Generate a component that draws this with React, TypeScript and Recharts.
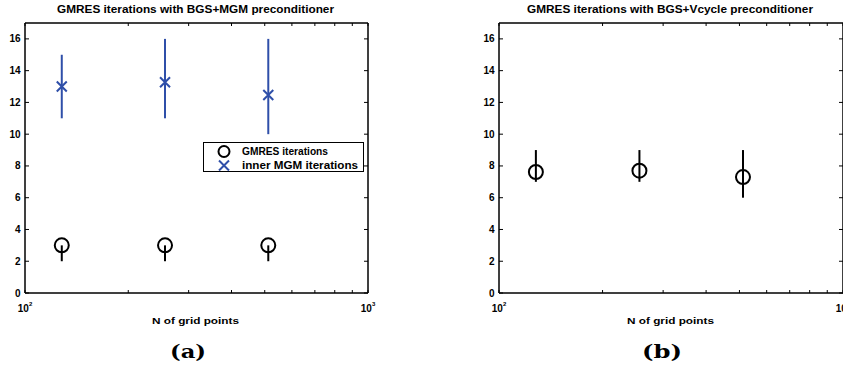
import React from 'react';
import { ScatterChart, Scatter, XAxis, YAxis, ErrorBar, Legend, ReferenceArea } from 'recharts';

// N of grid points (log axis)
const gridPoints = [128, 256, 512];

// (a) BGS+MGM preconditioner
const mgmGmresIters = [3, 3, 3];
const mgmGmresLow = [2, 2, 2];
const mgmGmresHigh = [3, 3, 3];
const mgmInnerIters = [13, 13.27, 12.47];
const mgmInnerLow = [11, 11, 10];
const mgmInnerHigh = [15, 16, 16];

// (b) BGS+Vcycle preconditioner
const vcycleGmresIters = [7.62, 7.7, 7.3];
const vcycleGmresLow = [7, 7, 6];
const vcycleGmresHigh = [9, 9, 9];

const yTicks = [0, 2, 4, 6, 8, 10, 12, 14, 16];
const xTicks = [100, 200, 300, 400, 500, 600, 700, 800, 900, 1000];

const FONT = '"Liberation Sans", Arial, Helvetica, sans-serif';
const BLUE = '#2f4fa9';
const GMRES_NAME = 'GMRES iterations';
const INNER_NAME = 'inner MGM iterations';

const toRows = (vals: number[], low: number[], high: number[]) =>
  gridPoints.map((n, i) => ({ n, v: vals[i], err: [vals[i] - low[i], high[i] - vals[i]] }));

const mgmGmresRows = toRows(mgmGmresIters, mgmGmresLow, mgmGmresHigh);
const mgmInnerRows = toRows(mgmInnerIters, mgmInnerLow, mgmInnerHigh);
const vcycleRows = toRows(vcycleGmresIters, vcycleGmresLow, vcycleGmresHigh);

const Ring = (p: any) => (
  <circle cx={p.cx} cy={p.cy} r={p.r ?? 7} fill="none" stroke="#000" strokeWidth={2} />
);

const Cross = (p: any) => (
  <path
    d={`M${p.cx - 5},${p.cy - 5}L${p.cx + 5},${p.cy + 5}M${p.cx - 5},${p.cy + 5}L${p.cx + 5},${p.cy - 5}`}
    stroke={BLUE}
    strokeWidth={2}
    fill="none"
  />
);

const Nothing = () => <g />;

const PowTick = (p: any) => {
  const lg = Math.log10(p.payload.value);
  const e = Math.round(lg);
  if (Math.abs(lg - e) > 1e-6) return <g />;
  return (
    <text x={p.x} y={p.y + 19} textAnchor="middle" fontSize={10} fontWeight="bold" fontFamily={FONT} fill="#000">
      10<tspan dy={-6} fontSize={6}>{e}</tspan>
    </text>
  );
};

const NumTick = (p: any) => (
  <text x={p.x} y={p.y + 3.5} textAnchor="end" fontSize={10} fontWeight="bold" fontFamily={FONT} fill="#000">
    {p.payload.value}
  </text>
);

const legendText: Record<string, number> = { [GMRES_NAME]: 86, [INNER_NAME]: 116 };

const LegendBox = ({ payload }: any) => (
  <svg width={161} height={30} style={{ display: 'block' }}>
    <rect x={0.5} y={0.5} width={160} height={29} fill="#fff" stroke="#000" />
    {(payload || []).map((entry: any, i: number) => {
      const cy = 9.5 + i * 14;
      return (
        <g key={i}>
          {entry.value === INNER_NAME ? <Cross cx={21} cy={cy} /> : <Ring cx={21} cy={cy} r={5.5} />}
          <text
            x={39}
            y={cy + 3.5}
            fontSize={10}
            fontWeight="bold"
            fontFamily={FONT}
            textLength={legendText[entry.value]}
            lengthAdjust="spacingAndGlyphs"
          >
            {entry.value}
          </text>
        </g>
      );
    })}
  </svg>
);

// box axes with inward ticks on all four sides, as in matlab
const frame = (rows: any[]) => [
  <XAxis
    key="xb"
    xAxisId="b"
    dataKey="n"
    type="number"
    scale="log"
    domain={[100, 1000]}
    ticks={xTicks}
    allowDataOverflow
    height={30}
    tickSize={-3}
    tickMargin={3}
    tick={<PowTick />}
    stroke="#000"
    interval={0}
  />,
  <XAxis
    key="xt"
    xAxisId="t"
    dataKey="n"
    orientation="top"
    type="number"
    scale="log"
    domain={[100, 1000]}
    ticks={xTicks}
    allowDataOverflow
    height={1}
    tickSize={-3}
    tick={<Nothing />}
    stroke="#000"
    interval={0}
  />,
  <YAxis
    key="yl"
    yAxisId="l"
    dataKey="v"
    type="number"
    domain={[0, 17]}
    ticks={yTicks}
    allowDataOverflow
    width={20}
    tickSize={-4}
    tickMargin={8.5}
    tick={<NumTick />}
    stroke="#000"
    interval={0}
  />,
  <YAxis
    key="yr"
    yAxisId="r"
    dataKey="v"
    orientation="right"
    type="number"
    domain={[0, 17]}
    ticks={yTicks}
    allowDataOverflow
    width={1}
    tickSize={-4}
    tick={<Nothing />}
    stroke="#000"
    interval={0}
  />,
  <ReferenceArea
    key="box"
    xAxisId="b"
    yAxisId="l"
    x1={100}
    x2={1000}
    y1={0}
    y2={17}
    fill="none"
    fillOpacity={0}
    stroke="#000"
    strokeWidth={1}
    ifOverflow="visible"
  />,
  // invisible series so the top/right axes have something to scale
  <Scatter
    key="frame"
    data={rows}
    xAxisId="t"
    yAxisId="r"
    shape={<Nothing />}
    legendType="none"
    isAnimationActive={false}
  />,
];

const label = (x: number, y: number, text: string, len: number, size: number, family = FONT) => (
  <text
    x={x}
    y={y}
    textAnchor="middle"
    fontSize={size}
    fontWeight="bold"
    fontFamily={family}
    textLength={len}
    lengthAdjust="spacingAndGlyphs"
    fill="#000"
  >
    {text}
  </text>
);

export default function App() {
  return (
    <div style={{ position: 'absolute', left: 0, top: 0, width: 843, height: 372, background: '#fff', overflow: 'hidden' }}>
      <div style={{ position: 'absolute', left: 0, top: 0 }}>
        <ScatterChart width={421} height={330} margin={{ top: 22, right: 52, bottom: 7, left: 5 }}>
          {frame(mgmGmresRows)}
          <Legend
            layout="vertical"
            align="center"
            verticalAlign="middle"
            wrapperStyle={{ left: 203, top: 142, width: 161, height: 30 }}
            content={<LegendBox />}
          />
          <Scatter
            name={GMRES_NAME}
            data={mgmGmresRows}
            xAxisId="b"
            yAxisId="l"
            shape={<Ring />}
            fill="#000"
            isAnimationActive={false}
          >
            <ErrorBar dataKey="err" direction="y" width={0} stroke="#000" strokeWidth={2} isAnimationActive={false} />
          </Scatter>
          <Scatter
            name={INNER_NAME}
            data={mgmInnerRows}
            xAxisId="b"
            yAxisId="l"
            shape={<Cross />}
            fill={BLUE}
            isAnimationActive={false}
          >
            <ErrorBar dataKey="err" direction="y" width={0} stroke={BLUE} strokeWidth={2} isAnimationActive={false} />
          </Scatter>
        </ScatterChart>
      </div>
      <div style={{ position: 'absolute', left: 420, top: 0 }}>
        <ScatterChart width={424} height={330} margin={{ top: 22, right: 0, bottom: 7, left: 59 }}>
          {frame(vcycleRows)}
          <Scatter
            name={GMRES_NAME}
            data={vcycleRows}
            xAxisId="b"
            yAxisId="l"
            shape={<Ring />}
            fill="#000"
            isAnimationActive={false}
          >
            <ErrorBar dataKey="err" direction="y" width={0} stroke="#000" strokeWidth={2} isAnimationActive={false} />
          </Scatter>
        </ScatterChart>
      </div>
      <svg width={843} height={372} style={{ position: 'absolute', left: 0, top: 0, pointerEvents: 'none' }}>
        {label(195.5, 13, 'GMRES iterations with BGS+MGM preconditioner', 277, 10)}
        {label(670, 13, 'GMRES iterations with BGS+Vcycle preconditioner', 286, 10)}
        {label(195.5, 324, 'N of grid points', 87, 9.5)}
        {label(670.5, 324, 'N of grid points', 87, 9.5)}
        {label(188, 358, '(a)', 36, 19, '"DejaVu Serif", serif')}
        {label(662, 358, '(b)', 40, 19, '"DejaVu Serif", serif')}
      </svg>
    </div>
  );
}
